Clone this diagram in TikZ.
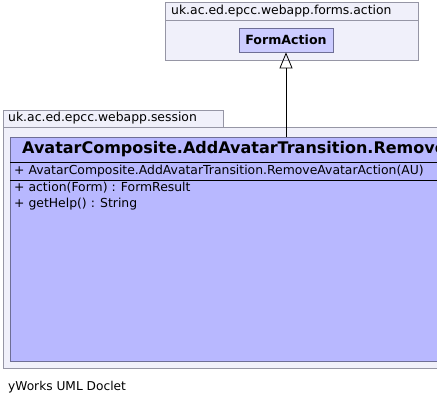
\documentclass[tikz,border=0pt]{standalone}
\usepackage{fontspec}
\setmainfont{DejaVu Sans}
\usetikzlibrary{arrows.meta}
\definecolor{pkgfill}{RGB}{240,240,250}
\definecolor{pkgline}{RGB}{150,150,165}
\definecolor{clsfill}{RGB}{184,184,255}
\definecolor{fafill}{RGB}{204,204,255}
\definecolor{clsline}{RGB}{110,110,150}
\tikzset{
  pkg/.style={draw=pkgline, fill=pkgfill, line width=0.8pt, inner sep=0pt},
  cls/.style={draw=clsline, fill=clsfill, line width=0.8pt, inner sep=0pt},
  lbl/.style={font=\fontsize{12.4}{14}\selectfont, inner sep=0pt, anchor=west},
  sep/.style={draw=black, line width=0.8pt},
}
\begin{document}
\begin{tikzpicture}[x=1pt,y=-1pt]
\useasboundingbox (0,0) rectangle (437,406);
\clip (0,0) rectangle (437,406);
% top package
\node[pkg, minimum width=253pt, minimum height=58pt] (pkgA) at (291.5,31.5) {};
\draw[pkgline, line width=0.8pt] (165,20) -- (418,20);
\node[lbl] (pkgAlbl) at (171,11.5) {uk.ac.ed.epcc.webapp.forms.action};
\node[cls, fill=fafill, minimum width=94pt, minimum height=24pt, font=\fontsize{12.6}{14}\selectfont\bfseries] (fa) at (286,40) {FormAction};
% bottom package
\node[pkg, minimum width=220pt, minimum height=17pt] (pkgBtab) at (113,118.5) {};
\node[lbl] (pkgBlbl) at (8,118.5) {uk.ac.ed.epcc.webapp.session};
\node[pkg, minimum width=557pt, minimum height=241pt] (pkgB) at (281.5,247.5) {};
% class
\node[cls, minimum width=560pt, minimum height=224pt] (cls) at (290,249) {};
\node[font=\fontsize{16}{18}\selectfont\bfseries, inner sep=0pt, anchor=west] (title) at (22,149.5) {AvatarComposite.AddAvatarTransition.RemoveAvatarAction};
\draw[sep] (10,162) -- (570,162);
\node[lbl] (ctor) at (14,171) {+ AvatarComposite.AddAvatarTransition.RemoveAvatarAction(AU)};
\draw[sep] (10,180) -- (570,180);
\node[lbl] (m1) at (14,188) {+ action(Form) : FormResult};
\node[lbl] (m2) at (14,204.5) {+ getHelp() : String};
% generalization
\draw[line width=0.8pt, -{Triangle[open, length=16pt, width=13pt]}] (cls.north -| fa.south) -- (fa.south);
% footer
\node[lbl, font=\fontsize{12.2}{14}\selectfont] (foot) at (8,387) {yWorks UML Doclet};
\end{tikzpicture}
\end{document}
